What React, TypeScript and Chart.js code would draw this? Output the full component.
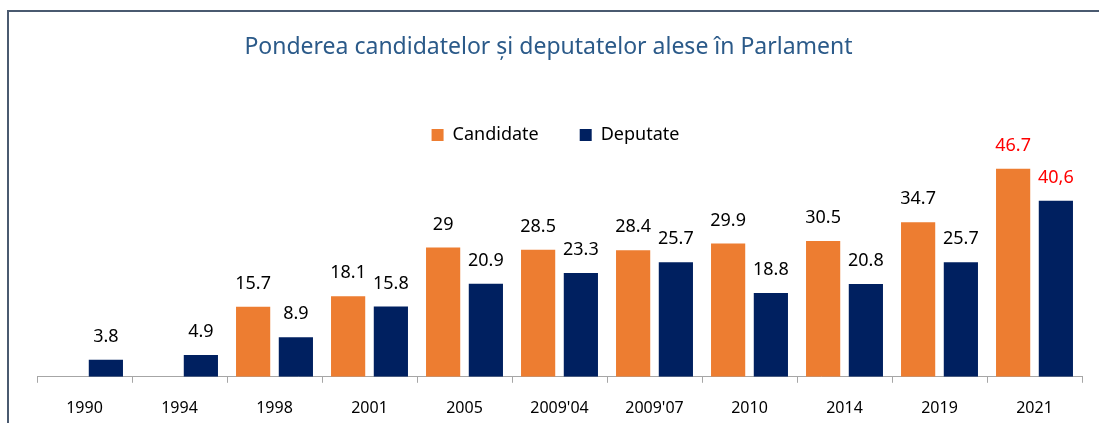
import React, { useEffect, useRef } from "react";
import { Chart, registerables } from "chart.js";

Chart.register(...registerables);

const FONT = "'Noto Sans', 'Liberation Sans', sans-serif";

const categories = ["1990", "1994", "1998", "2001", "2005", "2009'04", "2009'07", "2010", "2014", "2019", "2021"];
const candidateValues: (number | null)[] = [null, null, 15.7, 18.1, 29, 28.5, 28.4, 29.9, 30.5, 34.7, 46.7];
const deputateValues: (number | null)[] = [3.8, 4.9, 8.9, 15.8, 20.9, 23.3, 25.7, 18.8, 20.8, 25.7, 39.5];
const candidateLabels = ["", "", "15.7", "18.1", "29", "28.5", "28.4", "29.9", "30.5", "34.7", "46.7"];
const deputateLabels = ["3.8", "4.9", "8.9", "15.8", "20.9", "23.3", "25.7", "18.8", "20.8", "25.7", "40,6"];
const highlightCategories = ["2021"];
const seriesNames = ["Candidate", "Deputate"];
const titleText = "Ponderea candidatelor și deputatelor alese în Parlament";

const ORANGE = "#ED7D31";
const NAVY = "#002060";
const AXIS = "#A6A6A6";
const LEGEND_HEIGHT = 69;
const LEGEND_SHIFT = 7;

const labelSets = [candidateLabels, deputateLabels];

const valueLabelPlugin = {
  id: "valueLabels",
  afterDatasetsDraw(chart: any) {
    const ctx = chart.ctx;
    ctx.save();
    ctx.font = `18px ${FONT}`;
    ctx.textAlign = "center";
    ctx.textBaseline = "middle";
    chart.data.datasets.forEach((ds: any, i: number) => {
      const meta = chart.getDatasetMeta(i);
      meta.data.forEach((bar: any, j: number) => {
        if (ds.data[j] == null) return;
        ctx.fillStyle = highlightCategories.includes(categories[j]) ? "#FF0000" : "#000000";
        ctx.fillText(labelSets[i][j], bar.x, bar.y - 23);
      });
    });
    ctx.restore();
  },
};

const legendLayoutPlugin = {
  id: "legendLayout",
  beforeLayout(chart: any) {
    const lg = chart.legend;
    if (lg && !lg._patchedFit) {
      const orig = lg.fit;
      lg.fit = function () {
        orig.call(this);
        this.height = LEGEND_HEIGHT;
      };
      lg._patchedFit = true;
    }
  },
  afterLayout(chart: any) {
    const lg = chart.legend;
    if (lg) {
      lg.left += LEGEND_SHIFT;
      lg.right += LEGEND_SHIFT;
    }
  },
};

export default function App() {
  const ref = useRef<HTMLCanvasElement>(null);

  useEffect(() => {
    if (!ref.current) return;
    const chart = new Chart(ref.current, {
      type: "bar",
      data: {
        labels: categories,
        datasets: [
          {
            label: seriesNames[0],
            data: candidateValues,
            backgroundColor: ORANGE,
            borderWidth: 0,
            categoryPercentage: 0.9,
            barPercentage: 0.8,
          },
          {
            label: seriesNames[1],
            data: deputateValues,
            backgroundColor: NAVY,
            borderWidth: 0,
            categoryPercentage: 0.9,
            barPercentage: 0.8,
          },
        ],
      },
      options: {
        responsive: false,
        animation: false,
        layout: { padding: { left: 6, right: 17, top: 0, bottom: 2 } },
        plugins: {
          title: {
            display: true,
            text: titleText,
            color: "#2B5A89",
            font: { family: FONT, size: 23, weight: "normal" },
            padding: { top: 21.7, bottom: 23.7 },
          },
          legend: {
            display: true,
            position: "top",
            labels: {
              boxWidth: 12,
              boxHeight: 12,
              padding: 41,
              color: "#000000",
              font: { family: FONT, size: 18 },
            },
          },
          tooltip: { enabled: false },
        },
        scales: {
          x: {
            grid: {
              display: true,
              drawOnChartArea: false,
              drawTicks: true,
              tickLength: 6,
              color: AXIS,
              offset: true,
            },
            border: { display: true, color: AXIS, width: 1 },
            ticks: {
              color: "#000000",
              font: { family: FONT, size: 16 },
              padding: 16,
              maxRotation: 0,
              autoSkip: false,
            },
          },
          y: {
            display: true,
            min: 0,
            max: 50,
            grid: { display: false },
            border: { display: false },
            ticks: { display: false },
            afterFit(scale: any) {
              scale.width = 22;
            },
          },
        },
      },
      plugins: [valueLabelPlugin, legendLayoutPlugin],
    });
    return () => chart.destroy();
  }, []);

  return (
    <div
      style={{
        position: "fixed",
        left: 7,
        top: 10,
        width: 1090,
        height: 411,
        borderTop: "2px solid #4A5A70",
        borderLeft: "2px solid #4A5A70",
        overflow: "hidden",
        background: "#ffffff",
      }}
    >
      <canvas ref={ref} width={1090} height={424} style={{ display: "block", width: 1090, height: 424 }} />
    </div>
  );
}
